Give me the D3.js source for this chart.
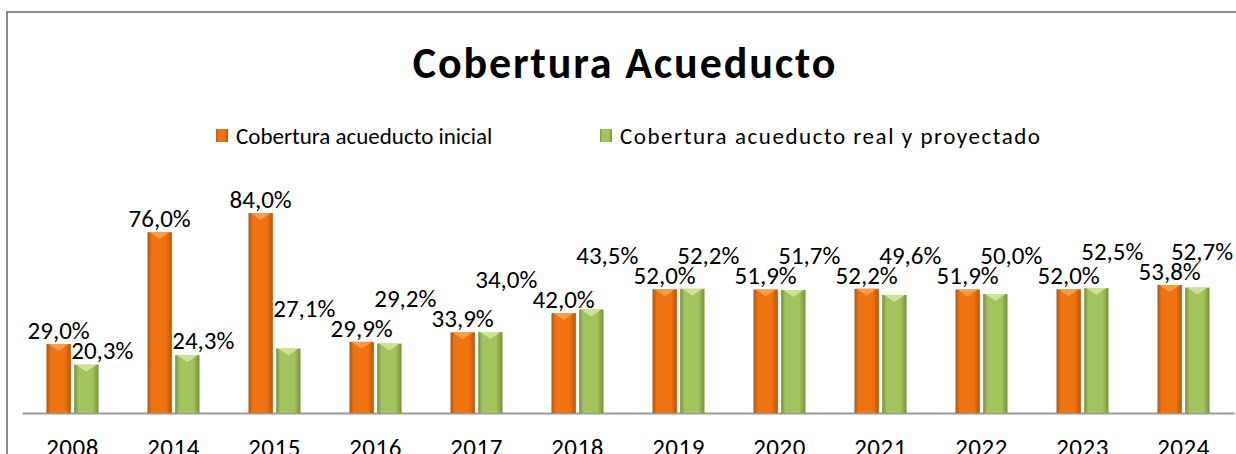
<!DOCTYPE html>
<html>
<head>
<meta charset="utf-8">
<script src="https://cdn.jsdelivr.net/npm/d3@7"></script>
<style>
  html, body { margin: 0; padding: 0; background: #fff; overflow: hidden; }
  svg { display: block; font-family: Carlito, Calibri, Lato, sans-serif; }
</style>
</head>
<body>
<div id="chart"></div>
<script>
// Cobertura acueducto: inicial vs real y proyectado

const years = ["2008", "2014", "2015", "2016", "2017", "2018", "2019", "2020", "2021", "2022", "2023", "2024"];
const inicial = [29.0, 76.0, 84.0, 29.9, 33.9, 42.0, 52.0, 51.9, 52.2, 51.9, 52.0, 53.8];
const realProy = [20.3, 24.3, 27.1, 29.2, 34.0, 43.5, 52.2, 51.7, 49.6, 50.0, 52.5, 52.7];
const seriesNames = ["Cobertura acueducto inicial", "Cobertura acueducto real y proyectado"];

const width = 1236,
      height = 454,
      margin = ({ top: 175, right: 2, bottom: 41, left: 22 });

const colors = [
    { light: "#f7a24f", mid: "#ef7411", dark: "#b9540a" },
    { light: "#d2e69a", mid: "#a3c35c", dark: "#76913f" }
];

const fmt = v => d3.format(".1f")(v).replace(".", ",") + "%";

let svg = d3.select("#chart")
    .append("svg")
    .attr("width", width)
    .attr("height", height);

// gradients for the bevelled bars
let defs = svg.append("defs");
colors.forEach((c, i) => {
    let g = defs.append("linearGradient")
        .attr("id", "grad" + i)
        .attr("x1", "0%").attr("x2", "100%");
    g.append("stop").attr("offset", "0%").attr("stop-color", c.dark);
    g.append("stop").attr("offset", "18%").attr("stop-color", c.mid);
    g.append("stop").attr("offset", "75%").attr("stop-color", c.mid);
    g.append("stop").attr("offset", "100%").attr("stop-color", c.dark);
});

// chart frame (only top and left edges visible in the crop)
svg.append("path")
    .attr("d", `M7,${height + 5}V12H${width + 5}`)
    .attr("fill", "none")
    .attr("stroke", "#8c8c8c")
    .attr("stroke-width", 2);

// title
svg.append("text")
    .attr("x", 625)
    .attr("y", 78)
    .attr("text-anchor", "middle")
    .attr("font-weight", "bold")
    .attr("font-size", 44)
    .attr("letter-spacing", 1.9)
    .text("Cobertura Acueducto");

// scales
let x0 = d3.scaleBand()
    .domain(years)
    .range([margin.left, width - margin.right])
    .paddingInner(0.485)
    .paddingOuter(0.2425);

let x1 = d3.scaleBand()
    .domain([0, 1])
    .range([0, x0.bandwidth()])
    .paddingInner(0.12);

let y = d3.scaleLinear()
    .domain([0, 100])
    .range([height - margin.bottom, height - margin.bottom - 238]);

// legend
let legendX = [216, 600];
let legend = svg.selectAll(".legend")
    .data(seriesNames)
    .join("g")
    .attr("class", "legend")
    .attr("transform", (d, i) => `translate(${legendX[i]},129)`);

legend.append("rect")
    .attr("width", 12)
    .attr("height", 13)
    .attr("fill", (d, i) => `url(#grad${i})`);

legend.append("text")
    .attr("x", 20)
    .attr("y", 15)
    .attr("font-size", 23)
    .text(d => d);

// second legend entry is spaced out wider in the original
legend.filter((d, i) => i === 1).select("text")
    .attr("textLength", 420)
    .attr("lengthAdjust", "spacing");

// x axis
let xAxis = svg.append("g")
    .attr("transform", `translate(0,${y(0)})`)
    .call(d3.axisBottom(x0).tickSize(0).tickPadding(25));

xAxis.select(".domain")
    .attr("stroke", "#9a9a9a")
    .attr("stroke-width", 2);

xAxis.selectAll("text")
    .attr("font-size", 25)
    .attr("letter-spacing", 0.5)
    .attr("font-family", "Carlito, Calibri, Lato, sans-serif")
    .attr("fill", "#000");

// bars
let rows = years.map((yr, i) => ({ year: yr, vals: [inicial[i], realProy[i]] }));

let group = svg.selectAll(".grp")
    .data(rows)
    .join("g")
    .attr("class", "grp")
    .attr("transform", d => `translate(${x0(d.year)},0)`);

let bw = x1.bandwidth();

group.selectAll("rect.bar")
    .data(d => d.vals.map((v, s) => ({ v, s })))
    .join("rect")
    .attr("class", "bar")
    .attr("x", d => x1(d.s))
    .attr("y", d => y(d.v))
    .attr("width", bw)
    .attr("height", d => y(0) - y(d.v))
    .attr("fill", d => `url(#grad${d.s})`);

// bevelled top cap
group.selectAll("path.cap")
    .data(d => d.vals.map((v, s) => ({ v, s })))
    .join("path")
    .attr("class", "cap")
    .attr("d", d => {
        let l = x1(d.s), t = y(d.v);
        return `M${l + 2},${t}H${l + bw - 2}L${l + bw / 2},${t + 7}Z`;
    })
    .attr("fill", d => colors[d.s].light)
    .attr("opacity", 0.9);

// value labels
let labelG = svg.append("g").attr("font-size", 25);
const above = 16, below = 2; // tight box around the digits
let placed = [];

const hits = (a, b) => a.x0 < b.x1 && a.x1 > b.x0 && a.y0 < b.y1 && a.y1 > b.y0;

// orange labels first: centred just above their bars
rows.forEach(r => {
    let cx = x0(r.year) + x1(0) + bw / 2;
    let base = y(r.vals[0]) - 5;
    let t = labelG.append("text")
        .attr("x", cx)
        .attr("y", base)
        .attr("text-anchor", "middle")
        .text(fmt(r.vals[0]));
    let w = t.node().getComputedTextLength();
    placed.push({ x0: cx - w / 2, x1: cx + w / 2, y0: base - above, y1: base + below });
});

// green labels: nudged right, lifted until they clear every placed label
rows.forEach(r => {
    let t = labelG.append("text")
        .attr("text-anchor", "middle")
        .text(fmt(r.vals[1]));
    let w = t.node().getComputedTextLength();
    let cx = Math.min(x0(r.year) + x1(1) + bw / 2 + 16, width - 3 - w / 2);
    let base = y(r.vals[1]) - 6;
    let box = () => ({ x0: cx - w / 2, x1: cx + w / 2, y0: base - above, y1: base + below });
    let guard = 0;
    let hit = placed.find(p => hits(box(), p));
    while (hit && guard++ < 10) {
        base = hit.y0 - below - 2;
        hit = placed.find(p => hits(box(), p));
    }
    t.attr("x", cx).attr("y", base);
    placed.push(box());
});
</script>
</body>
</html>
